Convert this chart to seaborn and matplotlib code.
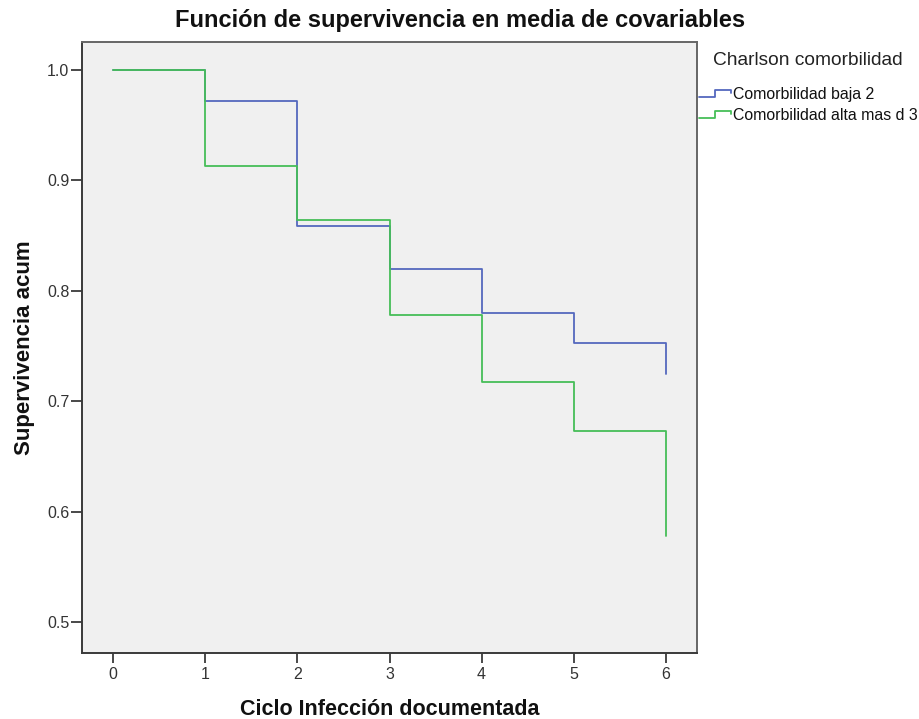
import matplotlib
matplotlib.use("Agg")
import matplotlib.pyplot as plt
from matplotlib.legend_handler import HandlerBase
from matplotlib.lines import Line2D
import pandas as pd
import seaborn as sns

# Survival at mean of covariates, by Charlson comorbidity group
ciclo = [0, 1, 2, 3, 4, 5, 6]
grupos = ["Comorbilidad baja 2", "Comorbilidad alta mas d 3"]
surv_baja = [1.000, 0.972, 0.859, 0.820, 0.780, 0.7525, 0.725]
surv_alta = [1.000, 0.913, 0.864, 0.778, 0.717, 0.673, 0.578]
colores = ["#5468BE", "#46BE58"]

x_ticks = [0, 1, 2, 3, 4, 5, 6]
y_ticks = [0.5, 0.6, 0.7, 0.8, 0.9, 1.0]

df = pd.DataFrame({
    "ciclo": ciclo * 2,
    "surv": surv_baja + surv_alta,
    "grupo": [grupos[0]] * len(ciclo) + [grupos[1]] * len(ciclo),
})

sns.set_style("white")
plt.rcParams["font.family"] = ["Liberation Sans", "DejaVu Sans"]

fig = plt.figure(figsize=(9.2, 7.19), dpi=100)
ax = fig.add_axes([82 / 920, 1 - 653 / 719, (697 - 82) / 920, (653 - 42) / 719])
ax.set_facecolor("#F0F0F0")

sns.lineplot(data=df, x="ciclo", y="surv", hue="grupo", hue_order=grupos,
             palette=colores, estimator=None, drawstyle="steps-post",
             linewidth=1.3, legend=False, ax=ax)

ax.set_xlim(-0.34, 6.34)
ax.set_ylim(0.472, 1.0254)
ax.set_xticks(x_ticks)
ax.set_xticklabels([str(t) for t in x_ticks])
ax.set_yticks(y_ticks)
ax.set_yticklabels([f"{t:.1f}" for t in y_ticks])
ax.tick_params(axis="x", direction="out", length=7, width=1.3, color="#3a3a3a",
               labelsize=11.5, labelcolor="#333333", pad=3, bottom=True)
ax.tick_params(axis="y", direction="out", length=8, width=1.3, color="#3a3a3a",
               labelsize=11.5, labelcolor="#333333", pad=1, left=True)
for side, sp in ax.spines.items():
    sp.set_visible(True)
    sp.set_linewidth(1.4)
    sp.set_color("#3a3a3a" if side in ("left", "bottom") else "#666666")

ax.set_xlabel("Ciclo Infección documentada", fontsize=15.5, fontweight="bold",
              labelpad=12, color="#111111")
ax.set_ylabel("Supervivencia acum", fontsize=16, fontweight="bold",
              labelpad=9, color="#111111")
fig.suptitle("Función de supervivencia en media de covariables", fontsize=17,
             fontweight="bold", x=0.5, y=0.988, color="#111111")


class StepHandler(HandlerBase):
    """Legend key drawn as a small survival step."""

    def create_artists(self, legend, orig_handle, xdescent, ydescent,
                       width, height, fontsize, trans):
        x0 = -xdescent
        y0 = -ydescent + height * 0.15
        y1 = -ydescent + height * 0.85
        xs = [x0, x0 + width * 0.5, x0 + width * 0.5, x0 + width, x0 + width]
        ys = [y0, y0, y1, y1, y1 - height * 0.3]
        ln = Line2D(xs, ys, color=orig_handle.get_color(), linewidth=1.3,
                    transform=trans)
        return [ln]


handles = [Line2D([], [], color=c) for c in colores]
leg = fig.legend(handles, grupos, title="Charlson comorbilidad",
                 loc="upper left", bbox_to_anchor=(699 / 920, 1 - 52 / 719),
                 frameon=False, fontsize=11.4, title_fontsize=13.8,
                 handler_map={Line2D: StepHandler()}, handlelength=2.0,
                 handletextpad=0.12, labelspacing=0.38, borderaxespad=0,
                 borderpad=0, alignment="center")
leg._legend_box.sep = 13
leg.get_title().set_color("#222222")
for t in leg.get_texts():
    t.set_color("#111111")

fig.savefig("out.png", dpi=100)
